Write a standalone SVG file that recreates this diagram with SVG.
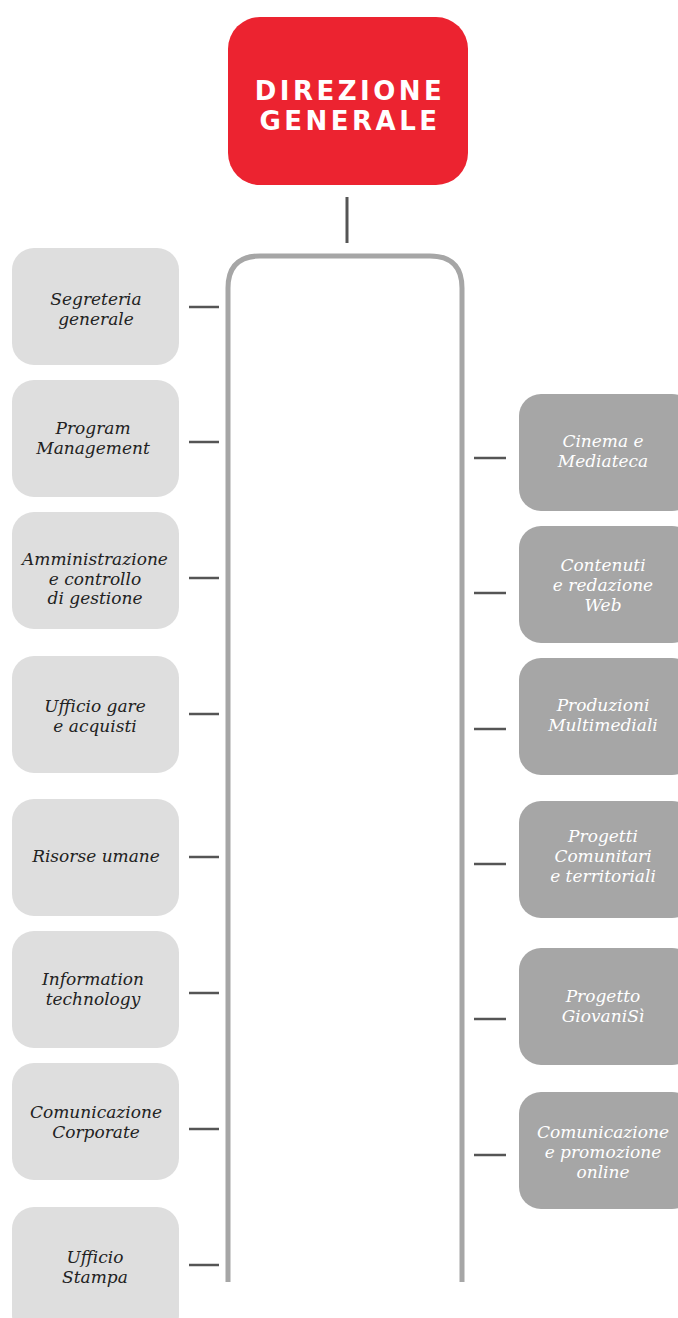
<svg xmlns="http://www.w3.org/2000/svg" width="678" height="1318" viewBox="0 0 678 1318">
<style>
.l rect{fill:#dedede}
.r rect{fill:#a6a6a6}
text{font-family:"DejaVu Serif","Liberation Serif",serif;font-style:italic;font-size:17px;text-anchor:middle}
.l text{fill:#222}
.r text{fill:#fff}
.tick{stroke:#555;stroke-width:2.5}
.title{font-family:"DejaVu Sans",Inter,sans-serif;font-style:normal;font-weight:700;font-size:26px;fill:#fff;letter-spacing:3.5px}
</style>
<rect width="678" height="1318" fill="#fff"/>
<g id="direzione">
<rect x="228" y="17" width="240" height="168" rx="32" fill="#ec2330"/>
<text class="title" x="350" y="100">DIREZIONE</text>
<text class="title" x="350" y="130">GENERALE</text>
</g>
<g id="connectors" fill="none">
<line x1="347" y1="197" x2="347" y2="243" stroke="#555" stroke-width="3"/>
<path d="M228,1282 V288 Q228,256 260,256 H430 Q462,256 462,288 V1282" stroke="#a6a6a6" stroke-width="5"/>
<g class="tick">
<line x1="189" y1="307" x2="219" y2="307"/>
<line x1="189" y1="442" x2="219" y2="442"/>
<line x1="189" y1="578" x2="219" y2="578"/>
<line x1="189" y1="714" x2="219" y2="714"/>
<line x1="189" y1="857" x2="219" y2="857"/>
<line x1="189" y1="993" x2="219" y2="993"/>
<line x1="189" y1="1129" x2="219" y2="1129"/>
<line x1="189" y1="1265" x2="219" y2="1265"/>
<line x1="474" y1="458" x2="506" y2="458"/>
<line x1="474" y1="593" x2="506" y2="593"/>
<line x1="474" y1="729" x2="506" y2="729"/>
<line x1="474" y1="864" x2="506" y2="864"/>
<line x1="474" y1="1019" x2="506" y2="1019"/>
<line x1="474" y1="1155" x2="506" y2="1155"/>
</g>
</g>
<g id="segreteria" class="l"><rect x="12" y="248" width="167" height="117" rx="22"/><text x="96" y="305">Segreteria</text><text x="96" y="325">generale</text></g>
<g id="program" class="l"><rect x="12" y="380" width="167" height="117" rx="22"/><text x="93" y="434">Program</text><text x="93" y="454">Management</text></g>
<g id="amministrazione" class="l"><rect x="12" y="512" width="167" height="117" rx="22"/><text x="95" y="565">Amministrazione</text><text x="95" y="585">e controllo</text><text x="95" y="604">di gestione</text></g>
<g id="gare" class="l"><rect x="12" y="656" width="167" height="117" rx="22"/><text x="95" y="712">Ufficio gare</text><text x="95" y="732">e acquisti</text></g>
<g id="risorse" class="l"><rect x="12" y="799" width="167" height="117" rx="22"/><text x="96" y="862">Risorse umane</text></g>
<g id="it" class="l"><rect x="12" y="931" width="167" height="117" rx="22"/><text x="93" y="985">Information</text><text x="93" y="1005">technology</text></g>
<g id="comcorp" class="l"><rect x="12" y="1063" width="167" height="117" rx="22"/><text x="96" y="1118">Comunicazione</text><text x="96" y="1138">Corporate</text></g>
<g id="stampa" class="l"><rect x="12" y="1207" width="167" height="130" rx="22"/><text x="95" y="1263">Ufficio</text><text x="95" y="1283">Stampa</text></g>
<g id="cinema" class="r"><rect x="519" y="394" width="175" height="117" rx="22"/><text x="603" y="447">Cinema e</text><text x="603" y="467">Mediateca</text></g>
<g id="contenuti" class="r"><rect x="519" y="526" width="175" height="117" rx="22"/><text x="603" y="571">Contenuti</text><text x="603" y="591">e redazione</text><text x="603" y="611">Web</text></g>
<g id="produzioni" class="r"><rect x="519" y="658" width="175" height="117" rx="22"/><text x="603" y="711">Produzioni</text><text x="603" y="731">Multimediali</text></g>
<g id="progetti" class="r"><rect x="519" y="801" width="175" height="117" rx="22"/><text x="603" y="842">Progetti</text><text x="603" y="862">Comunitari</text><text x="603" y="882">e territoriali</text></g>
<g id="giovanisi" class="r"><rect x="519" y="948" width="175" height="117" rx="22"/><text x="603" y="1002">Progetto</text><text x="603" y="1022">GiovaniSì</text></g>
<g id="comonline" class="r"><rect x="519" y="1092" width="175" height="117" rx="22"/><text x="603" y="1138">Comunicazione</text><text x="603" y="1158">e promozione</text><text x="603" y="1178">online</text></g>
</svg>
